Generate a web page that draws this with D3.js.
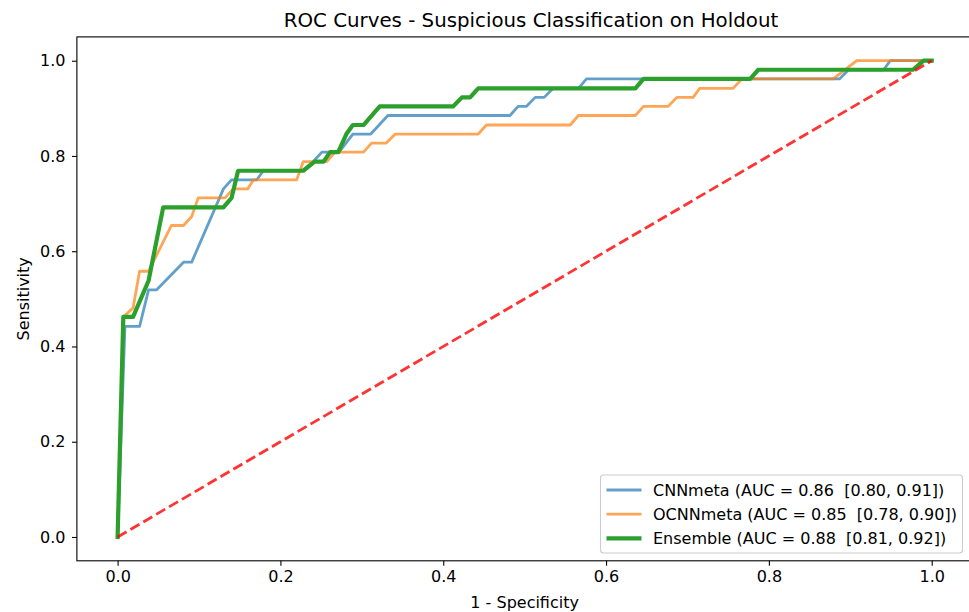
<!DOCTYPE html>
<html>
<head>
<meta charset="utf-8">
<script src="https://cdn.jsdelivr.net/npm/d3@7"></script>
<style>
  body { margin: 0; background: #fff; }
  svg { font-family: "DejaVu Sans", sans-serif; }
</style>
</head>
<body>
<div id="chart"></div>
<script>
// roc points
var cnnFpr = [0, 0.009, 0.027, 0.038, 0.048, 0.081, 0.091, 0.130, 0.140, 0.171, 0.179, 0.228, 0.240, 0.251, 0.272, 0.289, 0.311, 0.332, 0.482, 0.492, 0.502, 0.513, 0.524, 0.535, 0.566, 0.576, 0.887, 0.898, 0.941, 0.949, 1.0];
var cnnTpr = [0, 0.442, 0.442, 0.519, 0.519, 0.577, 0.577, 0.731, 0.750, 0.750, 0.769, 0.769, 0.788, 0.808, 0.808, 0.846, 0.846, 0.885, 0.885, 0.904, 0.904, 0.923, 0.923, 0.942, 0.942, 0.962, 0.962, 0.981, 0.981, 1.0, 1.0];

var ocnnFpr = [0, 0.007, 0.019, 0.027, 0.038, 0.066, 0.081, 0.091, 0.099, 0.132, 0.142, 0.160, 0.167, 0.220, 0.228, 0.257, 0.267, 0.302, 0.312, 0.330, 0.341, 0.443, 0.453, 0.556, 0.566, 0.636, 0.646, 0.676, 0.687, 0.707, 0.715, 0.756, 0.767, 0.879, 0.908, 1.0];
var ocnnTpr = [0, 0.462, 0.481, 0.558, 0.558, 0.654, 0.654, 0.673, 0.712, 0.712, 0.731, 0.731, 0.750, 0.750, 0.788, 0.788, 0.808, 0.808, 0.827, 0.827, 0.846, 0.846, 0.865, 0.865, 0.885, 0.885, 0.904, 0.904, 0.923, 0.923, 0.942, 0.942, 0.962, 0.962, 1.0, 1.0];

var ensFpr = [0, 0.007, 0.019, 0.038, 0.056, 0.130, 0.140, 0.148, 0.228, 0.242, 0.253, 0.261, 0.271, 0.281, 0.289, 0.302, 0.322, 0.412, 0.423, 0.433, 0.443, 0.636, 0.646, 0.777, 0.787, 0.977, 0.990, 1.0];
var ensTpr = [0, 0.462, 0.462, 0.538, 0.692, 0.692, 0.712, 0.769, 0.769, 0.788, 0.788, 0.808, 0.808, 0.846, 0.865, 0.865, 0.904, 0.904, 0.923, 0.923, 0.942, 0.942, 0.962, 0.962, 0.981, 0.981, 1.0, 1.0];

var chanceLine = [0, 1];
var tickVals = [0, 0.2, 0.4, 0.6, 0.8, 1.0];
var legendLabels = [
  "CNNmeta (AUC = 0.86  [0.80, 0.91])",
  "OCNNmeta (AUC = 0.85  [0.78, 0.90])",
  "Ensemble (AUC = 0.88  [0.81, 0.92])"
];

var width = 969, height = 612;
var fs = 16, titleFs = 19.8;

var svg = d3.select("#chart").append("svg")
  .attr("width", width)
  .attr("height", height);

var x = d3.scaleLinear().domain([-0.05, 1.05]).range([76.9, 972.4]);
var y = d3.scaleLinear().domain([-0.05, 1.05]).range([560.8, 36.9]);

//curves
var line = d3.line().x(function(d) { return x(d[0]); }).y(function(d) { return y(d[1]); });

function pts(a, b) { return a.map(function(v, i) { return [v, b[i]]; }); }

var series = [
  {pts: pts(cnnFpr, cnnTpr), color: "#1f77b4", op: 0.7, w: 2.8},
  {pts: pts(ocnnFpr, ocnnTpr), color: "#ff7f0e", op: 0.7, w: 2.8},
  {pts: pts(ensFpr, ensTpr), color: "#2ca02c", op: 1, w: 4.2}
];

var g = svg.append("g");
series.forEach(function(s) {
  g.append("path")
    .attr("d", line(s.pts))
    .attr("fill", "none")
    .attr("stroke", s.color)
    .attr("stroke-opacity", s.op)
    .attr("stroke-width", s.w)
    .attr("stroke-linejoin", "round")
    .attr("stroke-linecap", "square");
});

g.append("path")
  .attr("d", line(pts(chanceLine, chanceLine)))
  .attr("fill", "none")
  .attr("stroke", "#ff0000")
  .attr("stroke-opacity", 0.8)
  .attr("stroke-width", 2.8)
  .attr("stroke-dasharray", "10.4,4.5");

//axes
var xAxis = svg.append("g")
  .attr("transform", "translate(0," + 560.8 + ")")
  .call(d3.axisBottom(x).tickValues(tickVals).tickFormat(d3.format(".1f")).tickSize(4.9).tickSizeOuter(0));
var yAxis = svg.append("g")
  .attr("transform", "translate(" + 76.9 + ",0)")
  .call(d3.axisLeft(y).tickValues(tickVals).tickFormat(d3.format(".1f")).tickSize(4.9).tickSizeOuter(0));

[xAxis, yAxis].forEach(function(a) {
  a.select(".domain").remove();
  a.selectAll("line").attr("stroke", "#000").attr("stroke-width", 1.1);
  a.selectAll("text").attr("font-size", fs + "px").attr("fill", "#000").attr("font-family", "DejaVu Sans");
});
xAxis.selectAll("text").attr("dy", "0.71em").attr("y", 9.5);
yAxis.selectAll("text").attr("x", -11.5);

// frame
svg.append("rect")
  .attr("x", 76.9).attr("y", 36.9)
  .attr("width", 972.4 - 76.9).attr("height", 560.8 - 36.9)
  .attr("fill", "none").attr("stroke", "#000").attr("stroke-width", 1.1);

//labels
svg.append("text")
  .attr("x", 531).attr("y", 27)
  .attr("text-anchor", "middle")
  .attr("font-size", titleFs + "px")
  .text("ROC Curves - Suspicious Classification on Holdout");

svg.append("text")
  .attr("x", (76.9 + 972.4) / 2).attr("y", 608)
  .attr("text-anchor", "middle")
  .attr("font-size", fs + "px")
  .text("1 - Specificity");

svg.append("text")
  .attr("transform", "translate(29," + (560.8 + 36.9) / 2 + ") rotate(-90)")
  .attr("text-anchor", "middle")
  .attr("font-size", fs + "px")
  .text("Sensitivity");

//legend
var leg = svg.append("g");
leg.append("rect")
  .attr("x", 600.5).attr("y", 475)
  .attr("width", 362).attr("height", 78)
  .attr("rx", 3).attr("ry", 3)
  .attr("fill", "#fff").attr("fill-opacity", 0.8)
  .attr("stroke", "#cccccc").attr("stroke-width", 1.1);

legendLabels.forEach(function(lbl, i) {
  var yy = 490 + i * 24.2;
  leg.append("line")
    .attr("x1", 606.5).attr("x2", 641.5)
    .attr("y1", yy).attr("y2", yy)
    .attr("stroke", series[i].color)
    .attr("stroke-opacity", series[i].op)
    .attr("stroke-width", series[i].w);
  leg.append("text")
    .attr("x", 653).attr("y", yy)
    .attr("dy", "0.35em")
    .attr("font-size", fs + "px")
    .attr("xml:space", "preserve")
    .style("white-space", "pre")
    .text(lbl);
});
</script>
</body>
</html>
